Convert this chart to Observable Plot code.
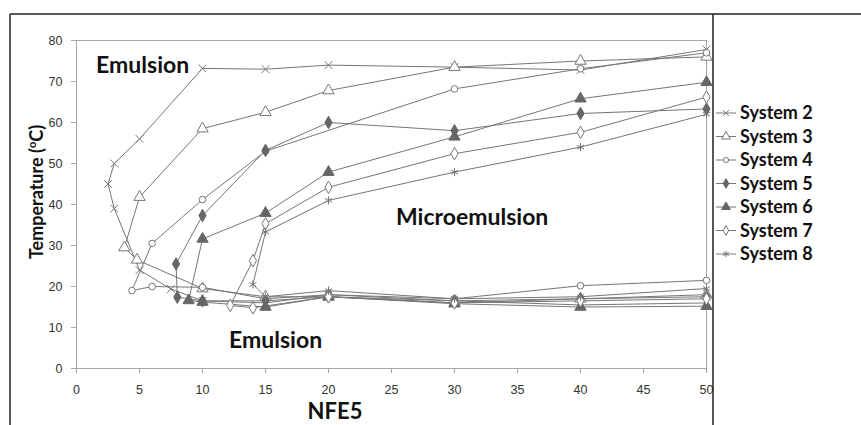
<!DOCTYPE html>
<html>
<head>
<meta charset="utf-8">
<script src="https://cdn.jsdelivr.net/npm/d3@7"></script>
<script src="https://cdn.jsdelivr.net/npm/@observablehq/plot@0.6"></script>
<style>
  html, body { margin: 0; padding: 0; background: white; }
  #chart { width: 861px; height: 425px; }
</style>
</head>
<body>
<div id="chart"></div>
<script>
// ---- data ----
const seriesNames = ["System 2", "System 3", "System 4", "System 5", "System 6", "System 7", "System 8"];
const xTicks = [0, 5, 10, 15, 20, 25, 30, 35, 40, 45, 50];
const yTicks = [0, 10, 20, 30, 40, 50, 60, 70, 80];

const s2x = [50, 40, 30, 20, 15, 10, 5, 3, 2.5, 3, 5, 7.5, 10, 15, 20, 30, 40, 50];
const s2y = [77.8, 72.8, 73.5, 74, 73, 73.2, 56, 50, 45, 39, 24, 19.4, 16.5, 16, 18, 16.5, 15.5, 16];

const s3x = [50, 40, 30, 20, 15, 10, 5, 3.8, 4.8, 10, 15, 20, 30, 40, 50];
const s3y = [76, 75, 73.5, 67.8, 62.5, 58.5, 41.8, 29.5, 26.5, 19.5, 17.5, 17.5, 16, 17, 18];

const s4x = [50, 40, 30, 15, 10, 6, 4.4, 6, 10, 15, 20, 30, 40, 50];
const s4y = [77, 73.1, 68.2, 53, 41.2, 30.5, 19, 20, 19.8, 17, 18, 17, 20.2, 21.5];

const s5x = [50, 40, 30, 20, 15, 10, 7.9, 8, 10, 15, 20, 30, 40, 50];
const s5y = [63.3, 62.2, 58, 60, 53.2, 37.3, 25.5, 17.4, 16.5, 16.5, 17.5, 16.5, 17, 17.5];

const s6x = [50, 40, 30, 20, 15, 10, 8.9, 10, 15, 20, 30, 40, 50];
const s6y = [69.8, 65.8, 56.5, 47.9, 37.9, 31.6, 16.6, 16.2, 15, 17.5, 15.8, 15, 15.2];

const s7x = [50, 40, 30, 20, 15, 14, 12.2, 14, 20, 30, 40, 50];
const s7y = [66.2, 57.6, 52.4, 44.2, 35.3, 26.3, 15.4, 14.8, 17.5, 16, 16.5, 17];

const s8x = [50, 40, 30, 20, 15, 14, 15, 20, 30, 40, 50];
const s8y = [62, 54, 47.9, 41, 33.3, 20.5, 17.5, 19, 17, 17.5, 19.5];

const regionLabels = ["Emulsion", "Microemulsion", "Emulsion"];
const regionX = [5.25, 31.4, 15.8];
const regionY = [73.9, 36.8, 6.8];

// ---- styles per series ----
const gray = "#767676";
const dark = "#666666";
const styles = [
  {symbol: "times", fill: "none", stroke: gray, r: 3.6},
  {symbol: "triangle", fill: "white", stroke: gray, r: 4.2},
  {symbol: "circle", fill: "white", stroke: gray, r: 3.3},
  {symbol: "diamond", fill: dark, stroke: dark, r: 3.8},
  {symbol: "triangle", fill: dark, stroke: dark, r: 4.2},
  {symbol: "diamond", fill: "white", stroke: gray, r: 3.8},
  {symbol: "asterisk", fill: "none", stroke: gray, r: 3.8}
];

const xs = [s2x, s3x, s4x, s5x, s6x, s7x, s8x];
const ys = [s2y, s3y, s4y, s5y, s6y, s7y, s8y];
const series = seriesNames.map((name, i) => xs[i].map((x, j) => ({series: name, x, y: ys[i][j]})));
const rows = series.flat();
const regions = regionLabels.map((t, i) => ({t, x: regionX[i], y: regionY[i]}));

const plot = Plot.plot({
  width: 861,
  height: 425,
  marginLeft: 76,
  marginRight: 155,
  marginTop: 40,
  marginBottom: 57,
  x: {domain: [0, 50]},
  y: {domain: [0, 80]},
  style: {fontFamily: "'Liberation Sans Narrow', 'Arial Narrow', 'Liberation Sans', sans-serif", fontSize: "12.5px", color: "#333", background: "white", overflow: "visible"},
  marks: [
    Plot.frame({stroke: "#a6a6a6"}),
    Plot.axisX({ticks: xTicks, tickSize: 5, tickPadding: 12, label: null, stroke: "#a6a6a6", fill: "#333"}),
    Plot.axisY({ticks: yTicks, tickSize: 5, tickPadding: 9, label: null, stroke: "#a6a6a6", fill: "#333"}),
    Plot.line(rows, {x: "x", y: "y", z: "series", stroke: gray, strokeWidth: 1}),
    ...series.map((d, i) => Plot.dot(d, {x: "x", y: "y", symbol: () => styles[i].symbol, r: styles[i].r,
        fill: styles[i].fill, stroke: styles[i].stroke, strokeWidth: 1})),
    Plot.text(regions, {x: "x", y: "y", text: "t", fontFamily: "Lato, 'Open Sans', sans-serif", fontWeight: "bold", fontSize: 23, fill: "#111"})
  ]
});

document.getElementById("chart").appendChild(plot);

// ---- decorations: outer frame, axis titles, legend ----
const svg = d3.select(plot);
const deco = svg.append("g");
deco.append("line").attr("x1", 10).attr("x2", 861).attr("y1", 14).attr("y2", 14).attr("stroke", "#222").attr("stroke-width", 1.5);
deco.append("line").attr("x1", 10).attr("x2", 10).attr("y1", 14).attr("y2", 425).attr("stroke", "#222").attr("stroke-width", 1.5);
deco.append("line").attr("x1", 713).attr("x2", 713).attr("y1", 14).attr("y2", 425).attr("stroke", "#222").attr("stroke-width", 1.5);

const yt = deco.append("text")
  .attr("transform", "translate(43,192) rotate(-90)")
  .attr("text-anchor", "middle")
  .attr("font-family", "Lato, 'Open Sans', sans-serif")
  .attr("font-weight", "bold").attr("font-size", 18).attr("fill", "#111");
yt.append("tspan").text("Temperature (");
yt.append("tspan").attr("font-size", 11).attr("dy", -7).text("o");
yt.append("tspan").attr("dy", 7).text("C)");

deco.append("text").attr("x", 335).attr("y", 419).attr("text-anchor", "middle")
  .attr("font-family", "Lato, 'Open Sans', sans-serif").attr("font-weight", "bold").attr("font-size", 22).attr("fill", "#111").text("NFE5");

const symMap = {times: d3.symbolTimes, triangle: d3.symbolTriangle, circle: d3.symbolCircle, diamond: d3.symbolDiamond, asterisk: d3.symbolAsterisk};
seriesNames.forEach((name, i) => {
  const yy = 113 + i * 23.5;
  const g = deco.append("g").attr("transform", `translate(0,${yy})`);
  g.append("line").attr("x1", 716).attr("x2", 736).attr("y1", 0).attr("y2", 0).attr("stroke", gray);
  const st = styles[i];
  g.append("path").attr("transform", "translate(726,0)")
    .attr("d", d3.symbol(symMap[st.symbol], Math.PI * st.r * st.r * 0.6)())
    .attr("fill", st.fill).attr("stroke", st.stroke);
  g.append("text").attr("x", 740).attr("y", 0).attr("dy", "0.35em").attr("text-anchor", "start")
    .attr("font-family", "Lato, 'Open Sans', sans-serif").attr("font-weight", "bold").attr("font-size", 18).attr("fill", "#111").text(name);
});
</script>
</body>
</html>
